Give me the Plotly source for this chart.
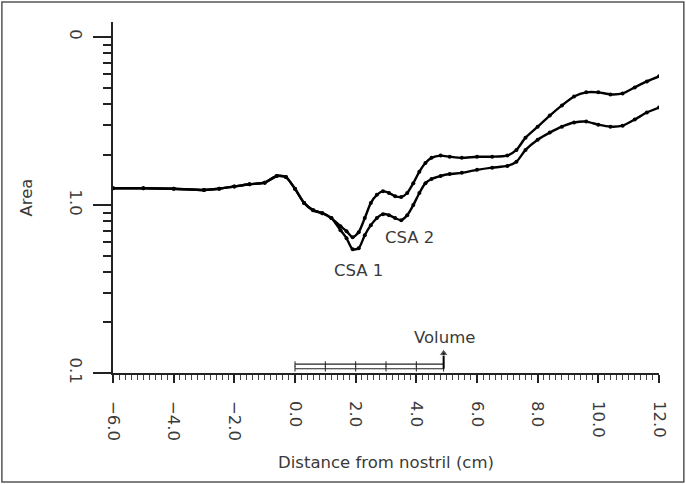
import math
import plotly.graph_objects as go

# ---- data ----
distance_cm = [-6.0, -5.0, -4.0, -3.0, -2.5, -2.0, -1.5, -1.0, -0.6, -0.3,
               0.0, 0.3, 0.6, 0.9, 1.2, 1.5, 1.7, 1.9, 2.1, 2.3,
               2.5, 2.7, 2.9, 3.1, 3.3, 3.5, 3.7, 3.9, 4.1, 4.3,
               4.5, 4.8, 5.1, 5.5, 6.0, 6.5, 7.0, 7.3, 7.6, 8.0,
               8.4, 8.8, 9.2, 9.6, 10.0, 10.4, 10.8, 11.2, 11.6, 12.0]

csa1_area = [1.26, 1.26, 1.25, 1.23, 1.25, 1.29, 1.33, 1.36, 1.49, 1.47,
             1.25, 1.03, 0.93, 0.895, 0.836, 0.708, 0.634, 0.545, 0.553, 0.661,
             0.759, 0.836, 0.883, 0.871, 0.836, 0.813, 0.871, 1.0, 1.18, 1.35,
             1.43, 1.49, 1.53, 1.555, 1.62, 1.67, 1.71, 1.81, 2.13, 2.45,
             2.70, 2.93, 3.10, 3.14, 3.01, 2.93, 2.97, 3.23, 3.56, 3.81]

csa2_area = [1.26, 1.26, 1.25, 1.23, 1.25, 1.29, 1.33, 1.36, 1.49, 1.47,
             1.25, 1.03, 0.93, 0.895, 0.836, 0.748, 0.699, 0.643, 0.689, 0.836,
             1.03, 1.15, 1.21, 1.18, 1.13, 1.117, 1.18, 1.35, 1.58, 1.78,
             1.91, 1.97, 1.94, 1.91, 1.94, 1.94, 1.97, 2.13, 2.52, 2.93,
             3.41, 3.92, 4.43, 4.69, 4.69, 4.56, 4.62, 5.02, 5.45, 5.84]

volume_x = [0.0, 1.0, 2.0, 3.0, 4.0, 4.9]
volume_line_upper = [0.113, 0.113, 0.113, 0.113, 0.113, 0.113]
volume_line_lower = [0.106, 0.106, 0.106, 0.106, 0.106, 0.106]
volume_arrow_x = [4.9, 4.9]
volume_arrow_y = [0.106, 0.131]

x_tick_values = [-6.0, -4.0, -2.0, 0.0, 2.0, 4.0, 6.0, 8.0, 10.0, 12.0]
y_tick_values = [0.1, 1.0, 10.0]
y_tick_labels = ["0.1", "1.0", "0"]

labels = [("CSA 1", 2.09, 0.408), ("CSA 2", 3.77, 0.643), ("Volume", 4.93, 0.162)]

FONT = "DejaVu Sans"
TXT = "#3a3a3a"
FS = 16.5

fig = go.Figure()

for ys in (csa2_area, csa1_area):
    fig.add_trace(go.Scatter(
        x=distance_cm, y=ys, mode="lines+markers",
        line=dict(color="black", width=2.4, shape="spline", smoothing=0.6),
        marker=dict(color="black", size=4, symbol="circle"),
        showlegend=False, hoverinfo="skip"))

for ys in (volume_line_upper, volume_line_lower):
    fig.add_trace(go.Scatter(
        x=volume_x, y=ys, mode="lines+markers",
        line=dict(color="#222", width=1.2),
        marker=dict(color="#222", size=4, symbol="line-ns-open", line=dict(width=1, color="#222")),
        showlegend=False, hoverinfo="skip"))

fig.add_trace(go.Scatter(
    x=volume_arrow_x, y=volume_arrow_y, mode="lines+markers",
    line=dict(color="black", width=2),
    marker=dict(color="black", size=[0, 8], symbol="triangle-up"),
    showlegend=False, hoverinfo="skip"))

for text, lx, ly in labels:
    fig.add_annotation(x=lx, y=math.log10(ly), text=text, showarrow=False,
                       font=dict(family=FONT, size=FS, color=TXT))

fig.update_xaxes(
    range=[-6.0, 12.0], showline=True, linecolor="#222", linewidth=1.5,
    tickmode="array", tickvals=x_tick_values, tickformat=".1f",
    ticks="outside", ticklen=8, tickcolor="#222", tickwidth=1.5,
    minor=dict(dtick=0.2, tick0=0, ticks="outside", ticklen=5, tickcolor="#444", tickwidth=1),
    tickangle=90, ticklabelstandoff=15,
    tickfont=dict(family=FONT, size=FS, color=TXT),
    showgrid=False, zeroline=False,
    title=dict(text="Distance from nostril (cm)", standoff=16,
               font=dict(family=FONT, size=FS, color=TXT)))

fig.update_yaxes(
    type="log", range=[-1.0, 1.09], showline=True, linecolor="#222", linewidth=1.5,
    tickmode="array", tickvals=y_tick_values, ticktext=y_tick_labels,
    ticks="outside", ticklen=18, tickcolor="#222", tickwidth=1.5,
    minor=dict(dtick="D1", ticks="outside", ticklen=8, tickcolor="#222", tickwidth=1.6),
    tickangle=90, ticklabelstandoff=3,
    tickfont=dict(family=FONT, size=FS, color=TXT),
    showgrid=False, zeroline=False,
    title=dict(text="Area", standoff=30, font=dict(family=FONT, size=FS, color=TXT)))

fig.add_shape(type="rect", xref="paper", yref="paper",
              x0=-0.2035, x1=1.0455, y0=-0.3105, y1=1.057,
              line=dict(color="#555", width=1.5), layer="below")

fig.update_layout(
    width=686, height=484,
    margin=dict(l=113, r=27, t=22, b=111, autoexpand=False),
    plot_bgcolor="white", paper_bgcolor="white",
    showlegend=False)

fig.write_html("out.html")
